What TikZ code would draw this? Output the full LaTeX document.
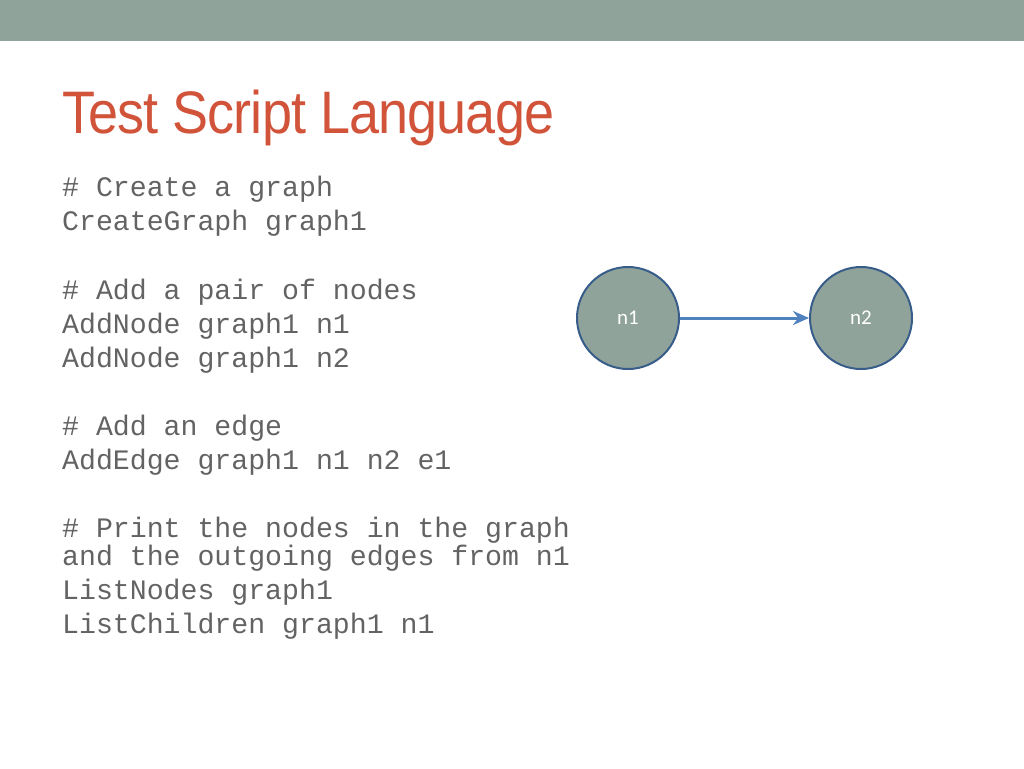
\documentclass[tikz,border=0pt]{standalone}
\usepackage{fontspec}
\setmainfont{Carlito}
\setmonofont{Liberation Mono}
\newfontfamily\titlefont[FakeStretch=0.9,LetterSpace=-1.5]{Liberation Sans}
\usetikzlibrary{arrows.meta}
\definecolor{bar}{HTML}{8FA39A}
\definecolor{ttl}{HTML}{D0533A}
\definecolor{codec}{HTML}{636363}
\definecolor{edgeb}{HTML}{4F81BD}
\definecolor{ring}{HTML}{385D8A}
\tikzset{
 code/.style={anchor=west,inner sep=0pt,text=codec,font=\fontsize{28.2}{28.2}\ttfamily},
 gnode/.style={circle,draw=ring,line width=2pt,fill=bar,minimum size=102pt,text=white,font=\fontsize{21}{21}\selectfont}
}
\begin{document}
\begin{tikzpicture}[x=1pt,y=-1pt]
\useasboundingbox (0,0) rectangle (1024,768);
\fill[bar] (0,0) rectangle (1024,41);
\node[anchor=west,inner sep=0pt,text=ttl,font=\fontsize{60}{60}\titlefont] (title) at (62,118) {Test Script Language};
\node[code] (l1) at (62,189) {\# Create a graph};
\node[code] (l2) at (62,223) {CreateGraph graph1};
\node[code] (l3) at (62,292) {\# Add a pair of nodes};
\node[code] (l4) at (62,326) {AddNode graph1 n1};
\node[code] (l5) at (62,360) {AddNode graph1 n2};
\node[code] (l6) at (62,428) {\# Add an edge};
\node[code] (l7) at (62,462) {AddEdge graph1 n1 n2 e1};
\node[code] (l8) at (62,530) {\# Print the nodes in the graph};
\node[code] (l9) at (62,558) {and the outgoing edges from n1};
\node[code] (l10) at (62,592) {ListNodes graph1};
\node[code] (l11) at (62,626) {ListChildren graph1 n1};
\node[gnode] (n1) at (628,318) {n1};
\node[gnode] (n2) at (861,318) {n2};
\draw[edgeb,line width=3pt,-{Stealth[length=16pt,width=14pt]}] (n1) -- (n2);
\end{tikzpicture}
\end{document}
